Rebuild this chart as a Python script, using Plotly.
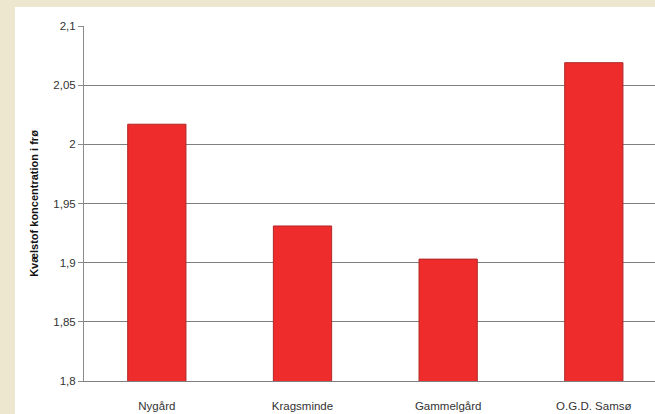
import plotly.graph_objects as go

categories = ["Nygård", "Kragsminde", "Gammelgård", "O.G.D. Samsø"]
values = [2.017, 1.931, 1.903, 2.069]
tick_vals = [1.8, 1.85, 1.9, 1.95, 2.0, 2.05, 2.1]
tick_text = ["1,8", "1,85", "1,9", "1,95", "2", "2,05", "2,1"]

W, H = 655, 414
ml, mr, mt, mb = 84, 0, 26, 33
pw = W - ml - mr
ph = H - mt - mb

def px_x(x):
    return (x - ml) / pw

def px_y(y):
    return (H - mb - y) / ph

fig = go.Figure()
fig.add_trace(go.Bar(
    x=list(range(len(categories))), y=values,
    base=0,
    width=0.4,
    marker=dict(color="#EE2C2C", line=dict(color="#B02828", width=1)),
))

fig.add_shape(type="rect", xref="paper", yref="paper",
              x0=px_x(15), x1=px_x(W + 5), y0=px_y(H + 5), y1=px_y(7),
              fillcolor="white", line=dict(width=0), layer="below")

fig.update_layout(
    width=W, height=H,
    margin=dict(l=ml, r=mr, t=mt, b=mb),
    paper_bgcolor="#EDE7D0",
    plot_bgcolor="white",
    showlegend=False,
    font=dict(family="Liberation Sans, Arial, sans-serif", size=11, color="#333333"),
    xaxis=dict(
        range=[-0.5, 3.42],
        tickvals=list(range(len(categories))),
        ticktext=categories,
        showgrid=False,
        zeroline=False,
        showline=True,
        linecolor="#7f7f7f",
        linewidth=1,
        ticks="",
        ticklabelstandoff=14,
        tickfont=dict(size=11.5, color="#333333"),
    ),
    yaxis=dict(
        range=[1.8, 2.1],
        tickvals=tick_vals,
        ticktext=tick_text,
        showgrid=True,
        gridcolor="#7f7f7f",
        gridwidth=1,
        zeroline=False,
        showline=True,
        linecolor="#8a8a8a",
        linewidth=1,
        ticks="outside",
        ticklen=5,
        tickcolor="#8a8a8a",
        tickfont=dict(size=11.5, color="#333333"),
        title=dict(text="<b>Kvælstof koncentration i frø</b>",
                   font=dict(size=11, color="#111111"), standoff=12),
    ),
)

fig.write_html("out.html")
